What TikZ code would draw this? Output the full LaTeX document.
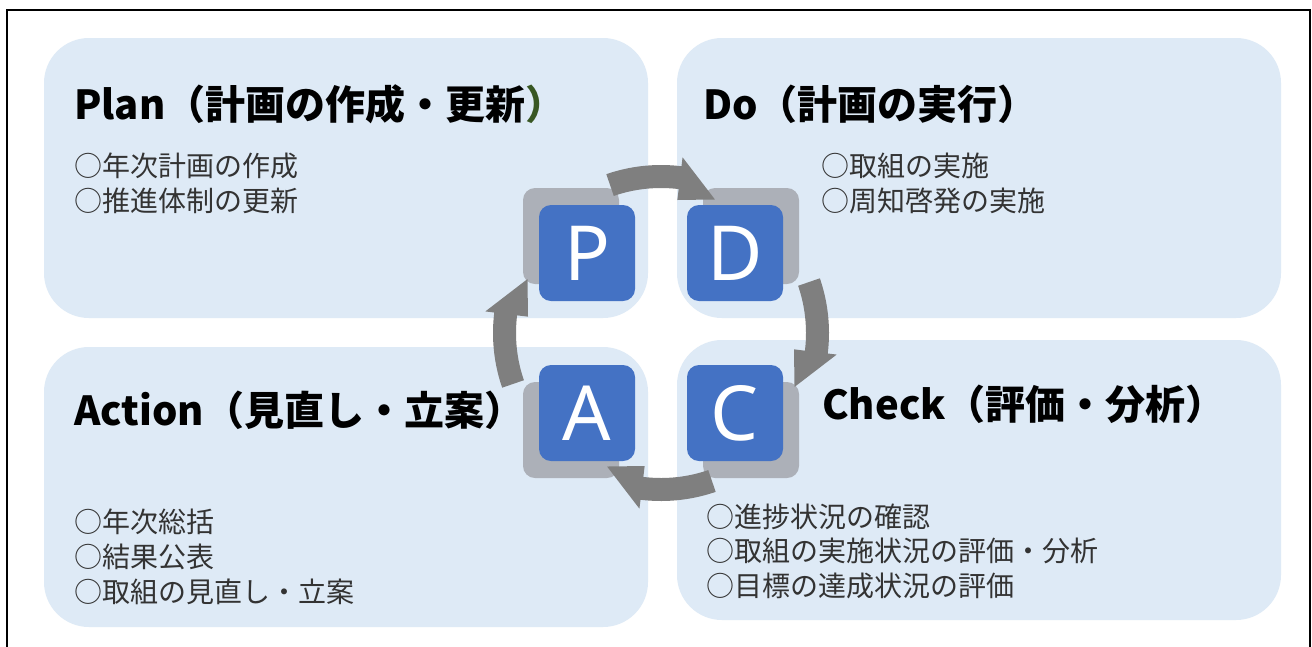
\documentclass[tikz,border=0pt]{standalone}
\usepackage{fontspec}
\newfontfamily\jpfont{Noto Sans CJK JP}
\newfontfamily\letterfont{Noto Sans}
\definecolor{boxfill}{HTML}{DEEAF6}
\definecolor{sqblue}{HTML}{4472C4}
\definecolor{sqgray}{HTML}{ACB0B8}
\definecolor{arrowgray}{HTML}{7F7F7F}
\definecolor{parengreen}{HTML}{385723}
\definecolor{bodygray}{HTML}{333333}
\tikzset{
  phasebox/.style={fill=boxfill, draw=none, rounded corners=45pt, inner sep=0pt,
    minimum width=604pt, minimum height=280pt},
  backsq/.style={fill=sqgray, draw=none, rounded corners=12pt, inner sep=0pt,
    minimum width=96pt, minimum height=96pt},
  frontsq/.style={fill=sqblue, draw=none, rounded corners=12pt, inner sep=0pt,
    minimum width=96pt, minimum height=96pt, text=white,
    font=\letterfont\fontsize{76}{80}\selectfont},
  titletext/.style={anchor=west, inner sep=0pt, text=black,
    font=\jpfont\bfseries\fontsize{40}{48}\selectfont},
  bodytext/.style={anchor=west, inner sep=0pt, text=bodygray,
    font=\jpfont\fontsize{28}{34}\selectfont},
  cyclefill/.style={fill=arrowgray, draw=none}
}
\newcommand\cycarrow[1]{%
  \pgfmathsetmacro\cyS{#1-19}%
  \pgfmathsetmacro\cyB{#1+7}%
  \pgfmathsetmacro\cyT{#1+22}%
  \fill[cyclefill] plot[domain=\cyS:\cyB, samples=30, variable=\t] (\t:168)
    -- (\cyB:177) -- (\cyT:144) -- (\cyB:134)
    -- plot[domain=\cyB:\cyS, samples=30, variable=\t] (\t:145) -- cycle;%
}
\begin{document}
\begin{tikzpicture}[x=1pt, y=-1pt]
\useasboundingbox (0,0) rectangle (1312,646);
\clip (0,0) rectangle (1312,646);
\fill[white] (0,0) rectangle (1312,646);
% outer frame
\draw[line width=2pt, black] (7,10) rectangle (1310,700);
% phase boxes
\node[phasebox] (planbox) at (346,178) {};
\node[phasebox] (dobox) at (979,178) {};
\node[phasebox] (actbox) at (346,487) {};
\node[phasebox] (checkbox) at (979,480) {};
% back squares
\node[backsq] (pback) at (571,236) {};
\node[backsq] (dback) at (751,236) {};
\node[backsq] (aback) at (571,430) {};
\node[backsq] (cback) at (751,430) {};
% cycle arrows
\begin{scope}[shift={(661,333)}]
  \cycarrow{-90}
  \cycarrow{0}
  \cycarrow{90}
  \cycarrow{180}
\end{scope}
% front squares
\node[frontsq] (p) at (587,253) {P};
\node[frontsq] (d) at (735,253) {D};
\node[frontsq] (a) at (587,413) {A};
\node[frontsq] (c) at (735,413) {C};
% titles
\node[titletext] (plantitle) at (74,104) {Plan（計画の作成・更新{\color{parengreen}）}};
\node[titletext] (dotitle) at (703,104) {Do（計画の実行）};
\node[titletext] (acttitle) at (74,410) {Action（見直し・立案）};
\node[titletext] (checktitle) at (822,404) {Check（評価・分析）};
% body texts
\node[bodytext] (pl1) at (74,166) {○年次計画の作成};
\node[bodytext] (pl2) at (74,201) {○推進体制の更新};
\node[bodytext] (do1) at (821,166) {○取組の実施};
\node[bodytext] (do2) at (821,201) {○周知啓発の実施};
\node[bodytext] (ac1) at (74,522) {○年次総括};
\node[bodytext] (ac2) at (74,557) {○結果公表};
\node[bodytext] (ac3) at (74,592) {○取組の見直し・立案};
\node[bodytext] (ch1) at (706,517) {○進捗状況の確認};
\node[bodytext] (ch2) at (706,551) {○取組の実施状況の評価・分析};
\node[bodytext] (ch3) at (706,586) {○目標の達成状況の評価};
\end{tikzpicture}
\end{document}
